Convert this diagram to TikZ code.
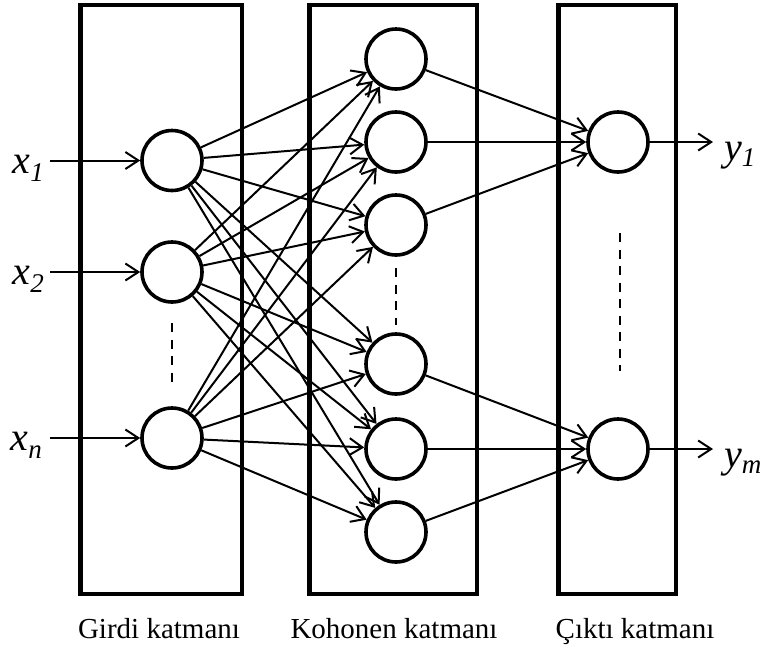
\documentclass[tikz,border=0pt]{standalone}
\usepackage{fontspec}
\setmainfont{Liberation Serif}
\usetikzlibrary{arrows.meta}

% variable name with a lowered subscript
\newcommand{\varlabel}[3]{{\fontsize{40}{40}\selectfont\itshape #1\raisebox{#3}{\fontsize{27}{27}\selectfont #2}}}

\begin{document}
\begin{tikzpicture}[x=1pt,y=-1pt,
  layerbox/.style={draw,line width=4.5pt},
  neuron/.style={circle,draw,line width=3.6pt,fill=white,inner sep=0pt,minimum size=60pt},
  conn/.style={line width=2pt,-{Straight Barb[length=13pt,width=17pt]}},
  dots/.style={line width=2.2pt,dash pattern=on 9pt off 7.5pt},
  caption/.style={anchor=base,font=\fontsize{29}{29}\selectfont}
]
\useasboundingbox (0,0) rectangle (761,649);

% layer frames
\draw[layerbox] (80.5,5) rectangle (242,594);
\draw[layerbox] (309.5,5) rectangle (477,594);
\draw[layerbox] (558.5,5) rectangle (676,594);

% dotted continuation marks
\draw[dots] (172,323) -- (172,383);
\draw[dots] (396,268) -- (396,325);
\draw[dots] (620,233) -- (620,371);

% input layer
\node[neuron] (g1) at (172,160.5) {};
\node[neuron] (g2) at (172,272) {};
\node[neuron] (gn) at (172,438) {};

% Kohonen layer
\node[neuron] (k1) at (396,59) {};
\node[neuron] (k2) at (396,142) {};
\node[neuron] (k3) at (396,225) {};
\node[neuron] (k4) at (396,364) {};
\node[neuron] (k5) at (396,449) {};
\node[neuron] (k6) at (396,532) {};

% output layer
\node[neuron] (o1) at (618,142) {};
\node[neuron] (om) at (618,449) {};

% input and output terminals
\coordinate (in1) at (50,160.5);
\coordinate (in2) at (50,272);
\coordinate (inn) at (50,438);
\coordinate (out1) at (713,142);
\coordinate (outm) at (713,449);

\draw[conn] (in1) -- (g1);
\draw[conn] (in2) -- (g2);
\draw[conn] (inn) -- (gn);
\draw[conn] (o1) -- (out1);
\draw[conn] (om) -- (outm);

% full connection input -> Kohonen
\foreach \g in {g1,g2,gn}{
  \foreach \k in {k1,k2,k3,k4,k5,k6}{
    \draw[conn] (\g) -- (\k);
  }
}

% Kohonen -> output
\foreach \k in {k1,k2,k3}{\draw[conn] (\k) -- (o1);}
\foreach \k in {k4,k5,k6}{\draw[conn] (\k) -- (om);}

% variable labels
\node[anchor=base east,inner sep=0pt] (lx1) at (44,173) {\varlabel{x}{1}{-8pt}};
\node[anchor=base east,inner sep=0pt] (lx2) at (44,284) {\varlabel{x}{2}{-8pt}};
\node[anchor=base east,inner sep=0pt] (lxn) at (42,450) {\varlabel{x}{n}{-8pt}};
\node[anchor=base west,inner sep=0pt] (ly1) at (724,160) {\varlabel{y}{1}{-6pt}};
\node[anchor=base west,inner sep=0pt] (lym) at (724,467) {\varlabel{y}{m}{-6pt}};

% layer captions
\node[caption] (c1) at (159,638) {Girdi katmanı};
\node[caption] (c2) at (394,638) {Kohonen katmanı};
\node[caption] (c3) at (635,638) {Çıktı katmanı};
\end{tikzpicture}
\end{document}
